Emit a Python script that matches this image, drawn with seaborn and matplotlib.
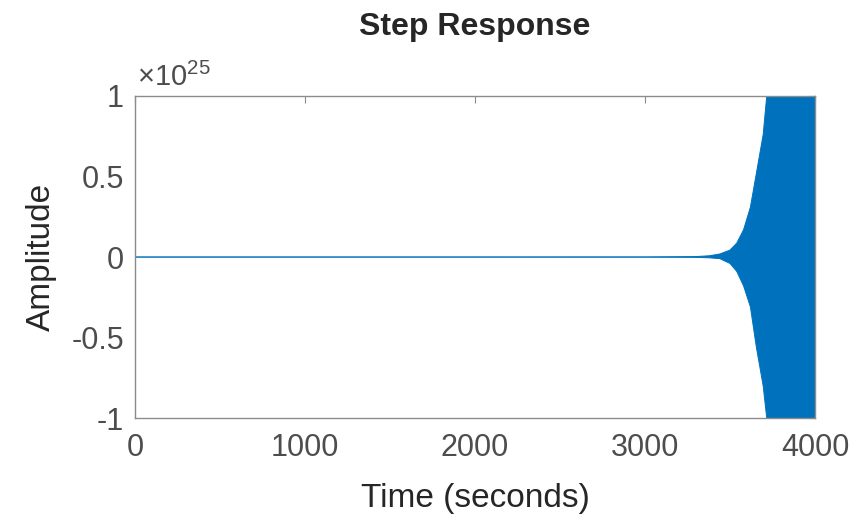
import numpy as np
import pandas as pd
import matplotlib
matplotlib.use("Agg")
import matplotlib.pyplot as plt
import seaborn as sns

# ── Data ──────────────────────────────────────────────────────────────────────
# envelope of the oscillating step response, in units of 1e25
time_s = [0, 1000, 2000, 3000, 3300, 3380, 3440, 3500, 3540, 3580, 3620,
          3655, 3695, 3716, 3760, 3850, 4000]
upper_env = [0, 0, 0, 0.0005, 0.003, 0.008, 0.019, 0.043, 0.087, 0.17, 0.31,
             0.52, 0.76, 1.0, 1.5, 2.8, 6.0]
lower_env = [0, 0, 0, -0.0005, -0.002, -0.005, -0.010, -0.04, -0.09, -0.18,
             -0.31, -0.56, -0.80, -1.0, -1.5, -2.8, -6.0]

xticks = [0, 1000, 2000, 3000, 4000]
xtick_labels = ["0", "1000", "2000", "3000", "4000"]
yticks = [-1, -0.5, 0, 0.5, 1]
ytick_labels = ["-1", "-0.5", "0", "0.5", "1"]

df = pd.DataFrame({"Time": time_s, "upper": upper_env, "lower": lower_env})

# ── Style ─────────────────────────────────────────────────────────────────────
sns.set_style("white")
plt.rcParams["font.family"] = ["Liberation Sans", "DejaVu Sans"]
plt.rcParams["mathtext.fontset"] = "custom"
plt.rcParams["mathtext.rm"] = "Liberation Sans"

line_col = "#0072BD"
tick_col = "#4D4D4D"
text_col = "#262626"
spine_col = "#8C8C8C"

fig = plt.figure(figsize=(8.61, 5.2), dpi=100)
ax = fig.add_axes([0.1568, 0.196, 0.7898, 0.6194])

sns.lineplot(data=df, x="Time", y="upper", color=line_col, lw=0.7, ax=ax)
sns.lineplot(data=df, x="Time", y="lower", color=line_col, lw=0.7, ax=ax)
ax.fill_between(df["Time"], df["lower"], df["upper"], color=line_col, lw=0)

ax.set_xlim(0, 4000)
ax.set_ylim(-1, 1)
ax.set_xticks(xticks)
ax.set_xticklabels(xtick_labels)
ax.set_yticks(yticks)
ax.set_yticklabels(ytick_labels)

ax.tick_params(axis="both", direction="in", length=5, width=0.8,
               colors=spine_col, labelcolor=tick_col, labelsize=22,
               top=True, right=True)
ax.tick_params(axis="x", pad=11)
ax.tick_params(axis="y", pad=8)
for s in ax.spines.values():
    s.set_color(spine_col)
    s.set_linewidth(1.0)

ax.set_xlabel("Time (seconds)", fontsize=24, color=text_col, labelpad=14)
ax.set_ylabel("Amplitude", fontsize=24, color=text_col, labelpad=10)
ax.set_title("Step Response", fontsize=23, fontweight="bold", color=text_col,
             pad=44)
ax.text(0.003, 1.012, r"$\times10^{25}$", transform=ax.transAxes,
        fontsize=21, color=tick_col, ha="left", va="bottom")

fig.savefig("out.png", dpi=100)
